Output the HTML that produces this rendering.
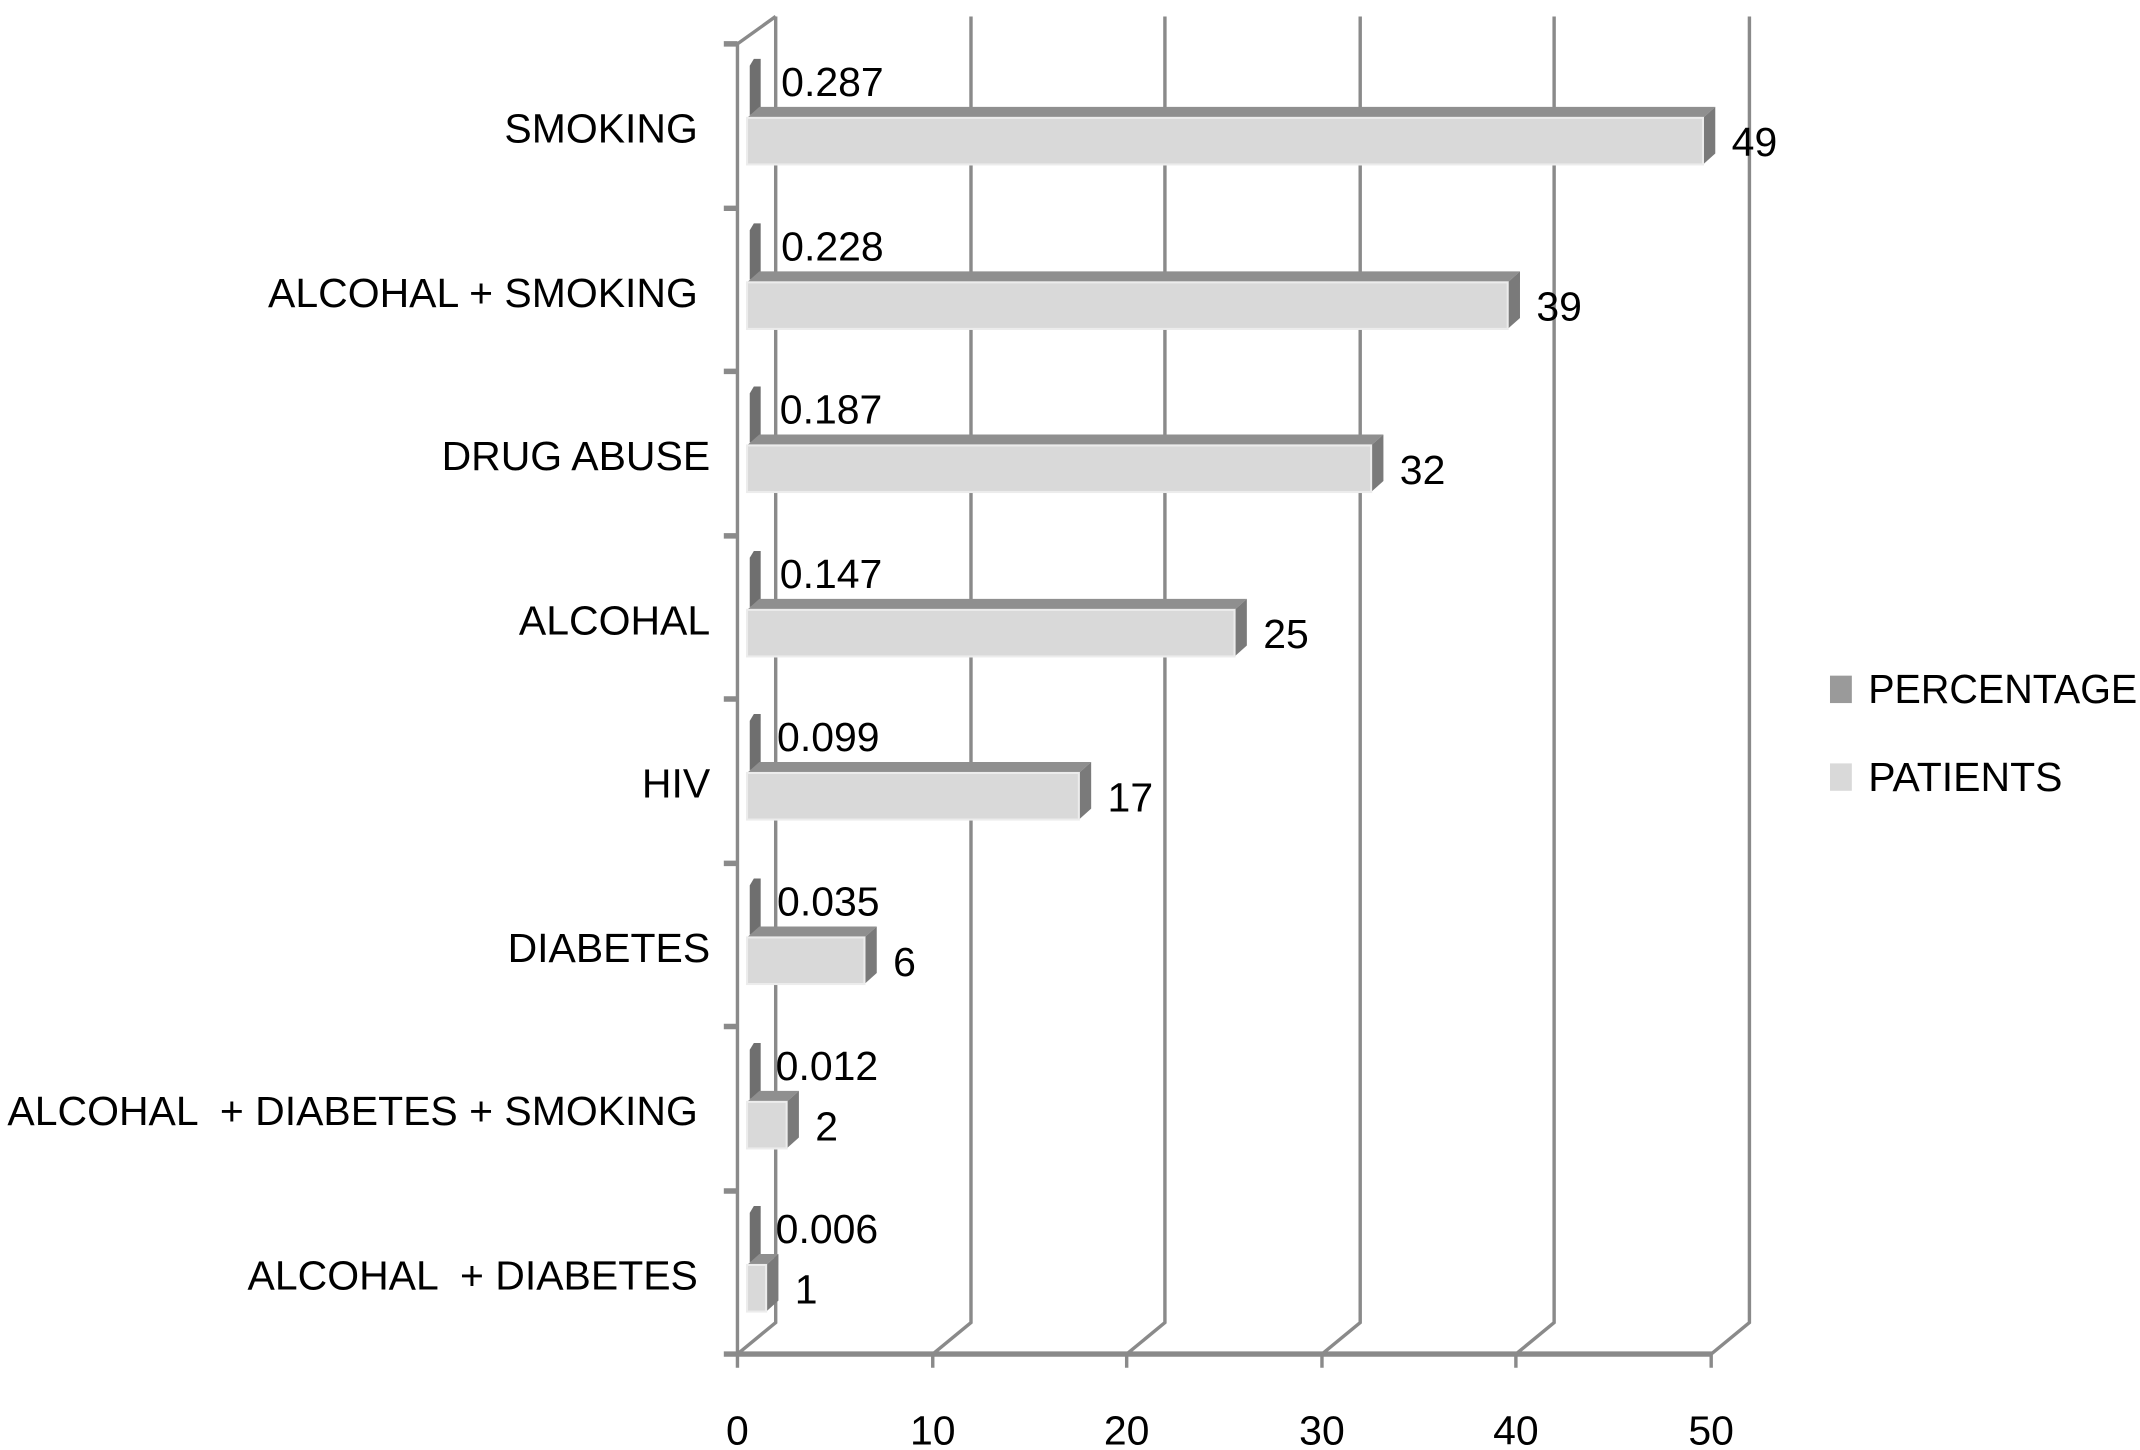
<!DOCTYPE html>
<html><head><meta charset="utf-8"><style>html,body{margin:0;padding:0;background:#fff}svg{display:block}text{font-family:"Liberation Sans",sans-serif;font-size:30px;fill:#000;white-space:pre}</style></head>
<body>
<svg width="2140" height="1450" viewBox="0 0 1567 1058" preserveAspectRatio="none" xmlns="http://www.w3.org/2000/svg">
<g stroke="#8a8a8a" stroke-width="2.5" fill="none">
<path d="M568 12V965L540 988M711 12V965L683 988M853 12V965L825 988M996 12V965L968 988M1138 12V965L1110 988M1281 12V965L1253 988"/>
<path d="M540 32V988M540 32L568 12"/>
<path d="M540 988H1254" stroke-width="4"/>
<path d="M540 988v10M683 988v10M825 988v10M968 988v10M1110 988v10M1253 988v10"/>
<path d="M530 32h10M530 152h10M530 271h10M530 391h10M530 510h10M530 630h10M530 749h10M530 869h10M530 988h10" stroke-width="4"/>
</g>
<defs>
<g id="pb"><polygon points="549,48 552,43 557,43 557,80 549,84" fill="#6f6f6f"/></g>
</defs>
<use href="#pb" y="0"/><use href="#pb" y="120"/><use href="#pb" y="239"/><use href="#pb" y="359"/><use href="#pb" y="478"/><use href="#pb" y="598"/><use href="#pb" y="718"/><use href="#pb" y="837"/>

<g>
<polygon points="547,86 556,78 1256,78 1247,86" fill="#8f8f8f"/><polygon points="1247,86 1256,78 1256,112 1247,120" fill="#7a7a7a"/><rect x="547" y="86" width="700" height="34" fill="#d9d9d9" stroke="#ececec" stroke-width="1.5"/>
<polygon points="547,206 556,198 1113,198 1104,206" fill="#8f8f8f"/><polygon points="1104,206 1113,198 1113,232 1104,240" fill="#7a7a7a"/><rect x="547" y="206" width="557" height="34" fill="#d9d9d9" stroke="#ececec" stroke-width="1.5"/>
<polygon points="547,325 556,317 1013,317 1004,325" fill="#8f8f8f"/><polygon points="1004,325 1013,317 1013,351 1004,359" fill="#7a7a7a"/><rect x="547" y="325" width="457" height="34" fill="#d9d9d9" stroke="#ececec" stroke-width="1.5"/>
<polygon points="547,445 556,437 913,437 904,445" fill="#8f8f8f"/><polygon points="904,445 913,437 913,471 904,479" fill="#7a7a7a"/><rect x="547" y="445" width="357" height="34" fill="#d9d9d9" stroke="#ececec" stroke-width="1.5"/>
<polygon points="547,564 556,556 799,556 790,564" fill="#8f8f8f"/><polygon points="790,564 799,556 799,590 790,598" fill="#7a7a7a"/><rect x="547" y="564" width="243" height="34" fill="#d9d9d9" stroke="#ececec" stroke-width="1.5"/>
<polygon points="547,684 556,676 642,676 633,684" fill="#8f8f8f"/><polygon points="633,684 642,676 642,710 633,718" fill="#7a7a7a"/><rect x="547" y="684" width="86" height="34" fill="#d9d9d9" stroke="#ececec" stroke-width="1.5"/>
<polygon points="547,804 556,796 585,796 576,804" fill="#8f8f8f"/><polygon points="576,804 585,796 585,830 576,838" fill="#7a7a7a"/><rect x="547" y="804" width="29" height="34" fill="#d9d9d9" stroke="#ececec" stroke-width="1.5"/>
<polygon points="547,923 556,915 570,915 561,923" fill="#8f8f8f"/><polygon points="561,923 570,915 570,949 561,957" fill="#7a7a7a"/><rect x="547" y="923" width="14" height="34" fill="#d9d9d9" stroke="#ececec" stroke-width="1.5"/>
</g>
<g>
<text x="1268" y="114">49</text><text x="1125" y="234">39</text><text x="1025" y="353">32</text><text x="925" y="473">25</text><text x="811" y="592">17</text><text x="654" y="712">6</text><text x="597" y="832">2</text><text x="582" y="951">1</text>
<text x="572" y="70">0.287</text><text x="572" y="190">0.228</text><text x="571" y="309">0.187</text><text x="571" y="429">0.147</text><text x="569" y="548">0.099</text><text x="569" y="668">0.035</text><text x="568" y="788">0.012</text><text x="568" y="907">0.006</text>
</g>
<g text-anchor="end">
<text x="511" y="104">SMOKING</text>
<text x="511" y="224">ALCOHAL + SMOKING</text>
<text x="520" y="343">DRUG ABUSE</text>
<text x="520" y="463">ALCOHAL</text>
<text x="520" y="582">HIV</text>
<text x="520" y="702">DIABETES</text>
<text x="511" y="821">ALCOHAL  + DIABETES + SMOKING</text>
<text x="511" y="941">ALCOHAL  + DIABETES</text>
</g>
<g text-anchor="middle">
<text x="540" y="1054">0</text><text x="683" y="1054">10</text><text x="825" y="1054">20</text><text x="968" y="1054">30</text><text x="1110" y="1054">40</text><text x="1253" y="1054">50</text>
</g>
<rect x="1340" y="493" width="16" height="20" fill="#9a9a9a"/>
<rect x="1340" y="557" width="16" height="20" fill="#d9d9d9"/>
<text x="1368" y="513" textLength="197" lengthAdjust="spacingAndGlyphs">PERCENTAGE</text>
<text x="1368" y="577">PATIENTS</text>
</svg>
</body></html>
